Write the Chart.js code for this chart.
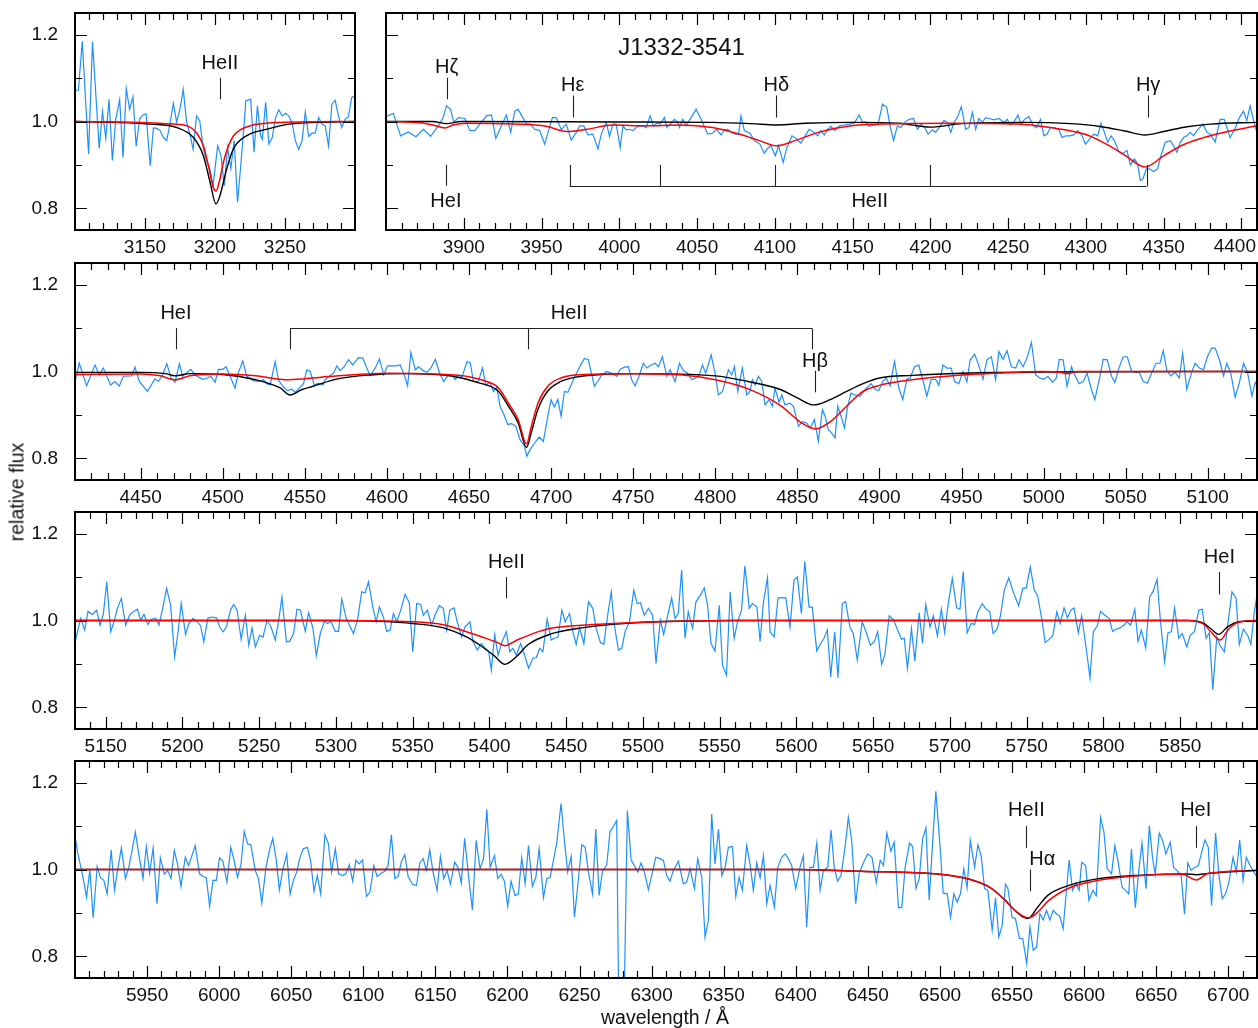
<!DOCTYPE html>
<html><head><meta charset="utf-8">
<script src="https://cdn.jsdelivr.net/npm/chart.js@4.4.1/dist/chart.umd.min.js"></script>
<style>
html,body{margin:0;padding:0;background:#fff;width:1258px;height:1028px;overflow:hidden;font-family:"Liberation Sans",Arial,sans-serif;color:#111;}
canvas{position:absolute;}
#ylab{position:absolute;left:17px;top:492px;transform:translate(-50%,-50%) rotate(-90deg);font-size:19.5px;white-space:nowrap;}
#xlab{position:absolute;left:665px;top:1017px;transform:translate(-50%,-50%);font-size:19.5px;white-space:nowrap;}
</style></head><body>
<canvas id="cA" width="356" height="260" style="left:0px;top:0px"></canvas>
<canvas id="cB" width="898" height="260" style="left:360px;top:0px"></canvas>
<canvas id="cC" width="1258" height="260" style="left:0px;top:250px"></canvas>
<canvas id="cD" width="1258" height="260" style="left:0px;top:499px"></canvas>
<canvas id="cE" width="1258" height="260" style="left:0px;top:748px"></canvas>
<div id="ylab">relative flux</div>
<div id="xlab">wavelength / Å</div>
<script>
// ---------------- observed spectrum (wavelength Å, relative flux) ----------------
const obsA = [[3100,1.072],[3102.4,1.072],[3105.2,1.185],[3109.7,0.925],[3112.5,1.184],[3117.3,0.938],[3119.6,1.023],[3122,0.961],[3124.3,1.051],[3126.7,0.910],[3129.1,1.005],[3131.9,1.050],[3134.3,0.917],[3136.6,1.076],[3139,1.028],[3141.4,1.057],[3143.7,0.943],[3146.1,1.005],[3148.5,1.015],[3150.8,1.017],[3153.7,0.898],[3156,0.985],[3158.4,0.984],[3160.8,0.979],[3163.1,0.963],[3165.5,0.956],[3167.8,0.994],[3170.2,1.042],[3172.6,0.999],[3174.9,1.027],[3177.3,1.074],[3179.7,0.999],[3182,0.972],[3184.4,0.936],[3186.8,1.013],[3189.1,1.002],[3191.5,0.940],[3193.9,0.910],[3196.2,0.892],[3198.6,0.852],[3201.9,0.944],[3204.3,0.921],[3206.6,0.852],[3209,0.940],[3211.3,0.892],[3213.7,0.956],[3216.1,0.814],[3218.4,0.898],[3220.8,0.994],[3222,1.048],[3225.5,1.051],[3227.9,0.929],[3230.3,1.036],[3232.6,0.967],[3233.8,0.959],[3236.2,1.044],[3238.5,0.948],[3240.9,0.963],[3243.3,1.009],[3245.6,1.027],[3248,1.013],[3250.4,1.019],[3252.7,1.013],[3255.1,0.996],[3257.4,0.956],[3259.8,0.936],[3262.2,0.956],[3264.5,1.022],[3266.9,0.966],[3269.3,0.973],[3271.6,0.973],[3274,1.009],[3276.4,0.994],[3278.7,0.990],[3281.1,0.944],[3283.5,1.040],[3285.8,1.049],[3288.2,1.013],[3290.5,0.986],[3292.9,1.005],[3295.3,1.011],[3297.6,1.055],[3300,1.06]];

const obsB = [[3850,1.011],[3854.7,1.019],[3859.4,0.967],[3864.3,0.976],[3869.3,0.965],[3874,0.982],[3878.7,0.966],[3883.6,0.990],[3886.8,1.009],[3888.9,1.036],[3891.5,1.028],[3893.6,0.998],[3896.4,1.009],[3900.7,1.007],[3903.9,0.979],[3907.1,0.979],[3910.3,0.994],[3914.6,1.013],[3917.8,1.015],[3920.6,0.961],[3924.2,0.990],[3927.4,1.015],[3930.2,0.975],[3932.8,1.024],[3934.9,1.028],[3938.6,1.005],[3940.3,0.994],[3942.8,0.994],[3945.6,0.982],[3948.8,0.979],[3952,0.948],[3954.2,0.975],[3957,1.009],[3959.5,1.009],[3962.7,0.981],[3965.9,0.994],[3969.1,0.957],[3972.4,0.975],[3974.5,0.990],[3977.1,0.990],[3979.8,0.969],[3983,0.971],[3986.3,0.937],[3988.4,0.971],[3991.6,0.998],[3993.7,0.966],[3995.9,0.994],[3998,0.994],[4000.6,0.940],[4002.3,0.990],[4004.4,0.981],[4006.6,0.982],[4008.7,0.979],[4011.9,0.989],[4015.1,0.990],[4017.3,0.986],[4019.8,1.013],[4022,0.989],[4024.1,0.996],[4026.3,0.994],[4029,1.009],[4030.5,0.986],[4032.7,0.994],[4035.5,1.005],[4037.6,0.998],[4038.7,0.986],[4040.8,1.005],[4042.9,0.990],[4045.5,1.005],[4049.4,1.028],[4052.6,1.005],[4056.8,0.971],[4060,0.973],[4062.6,0.982],[4065.4,0.969],[4067.5,0.981],[4069.7,0.982],[4071.8,0.976],[4074.6,0.971],[4076.7,0.971],[4078.2,1.013],[4080.4,0.979],[4084,0.973],[4086.8,0.956],[4090.4,0.948],[4093.2,0.927],[4095.3,0.938],[4097.5,0.944],[4100.3,0.921],[4102.4,0.944],[4105.4,0.906],[4107.5,0.937],[4111,0.967],[4114,0.960],[4116.7,0.950],[4119.5,0.967],[4122.1,0.982],[4125.3,0.975],[4127.5,0.967],[4129.6,0.979],[4131.8,0.969],[4133.9,0.982],[4136.1,0.989],[4138.6,0.979],[4141.4,0.990],[4144.6,0.992],[4147.8,0.994],[4151,0.996],[4154.2,1.015],[4156.4,0.998],[4158.5,0.999],[4160.7,0.989],[4163.9,0.992],[4166.4,0.994],[4169.2,1.040],[4172,1.032],[4174.1,0.990],[4176.3,0.956],[4178.8,0.990],[4181,0.986],[4183.5,0.998],[4186.3,1.005],[4189.1,1.007],[4191.7,0.982],[4194.2,0.994],[4196.4,0.986],[4198.5,0.971],[4201.3,0.981],[4203.4,0.975],[4205.6,0.986],[4208.8,1.002],[4210.9,0.998],[4213.1,0.975],[4215.2,0.998],[4217.3,1.009],[4219.9,1.034],[4222.7,0.982],[4224.8,0.986],[4227,1.021],[4229.1,0.982],[4231.2,1.007],[4233.4,0.998],[4235.5,1.009],[4237.7,1.007],[4240.9,1.004],[4244.1,1.007],[4247.3,0.998],[4249.4,1.005],[4251.1,0.992],[4253.7,0.998],[4256.3,1.015],[4258.4,0.994],[4260.5,1.005],[4263.3,1.011],[4266.1,0.990],[4268.3,0.986],[4270.8,1.005],[4273,0.967],[4275.1,0.971],[4277.2,0.986],[4279.8,0.986],[4282.6,0.981],[4284.7,0.963],[4286.9,0.967],[4289.6,0.967],[4292.2,0.969],[4294.8,0.979],[4297.6,0.967],[4299.7,0.948],[4302.5,0.960],[4305.1,0.971],[4307.6,0.967],[4309.7,0.996],[4311.9,0.975],[4314,0.952],[4316.2,0.967],[4318.3,0.956],[4321.1,0.931],[4323.2,0.925],[4326.4,0.933],[4328.6,0.900],[4331.1,0.914],[4333.3,0.902],[4335,0.864],[4336.7,0.868],[4338.8,0.891],[4341,0.891],[4343.5,0.885],[4346.1,0.891],[4348.2,0.921],[4351,0.952],[4354.2,0.956],[4356.4,0.944],[4358.5,0.929],[4360.7,0.952],[4362.8,0.963],[4364.9,0.967],[4367.1,0.975],[4369.2,0.967],[4371.4,0.979],[4375.2,0.994],[4377.8,0.975],[4379.9,0.971],[4383.1,0.953],[4386.3,1.005],[4388.9,1.005],[4392.7,0.963],[4395.7,0.982],[4398.7,1.009],[4401.3,1.024],[4403.4,1.002],[4405.6,1.036],[4407.8,1.002],[4409.9,0.975]];

const obsC = [[4409.3,0.966],[4412.6,1.019],[4417.1,0.967],[4422.2,1.015],[4424.8,0.992],[4427.2,1.008],[4431.7,0.969],[4434.3,0.977],[4437,0.966],[4439.4,0.989],[4444.5,0.990],[4446.5,1.010],[4449.2,0.977],[4454.1,0.954],[4458.7,0.983],[4460.8,0.977],[4463.4,0.992],[4465.9,1.018],[4468.5,0.985],[4470.9,0.975],[4473.6,1.018],[4475.6,0.989],[4480.5,1.005],[4483.1,0.992],[4487.8,0.982],[4490.7,0.985],[4492.7,0.989],[4495.3,0.975],[4497.4,1.005],[4500,1.005],[4502,1.011],[4504.9,0.985],[4507.5,0.962],[4509.6,0.998],[4512.2,1.024],[4514.6,0.989],[4516.7,0.985],[4518.7,0.979],[4521.7,0.977],[4524.8,0.981],[4526.8,0.972],[4528.9,0.969],[4531.9,1.023],[4533.9,0.981],[4536.6,0.966],[4539.4,0.956],[4542.1,0.959],[4544.1,0.952],[4546.7,0.962],[4549.2,0.972],[4551.2,1.004],[4553.3,1.0],[4555.7,0.969],[4558.3,0.973],[4561,0.969],[4562.4,0.981],[4565,0.989],[4567.5,0.996],[4569.5,1.013],[4571.5,1.002],[4574,1.011],[4576.6,1.027],[4579.3,1.015],[4580.7,1.023],[4582.7,1.032],[4585.4,1.031],[4587.4,1.011],[4589.8,0.990],[4592.9,1.008],[4595.5,1.029],[4598,0.992],[4600.4,1.013],[4603,1.013],[4605.7,1.013],[4608.1,1.015],[4610.6,0.992],[4612.6,0.967],[4614.6,1.044],[4617.3,1.004],[4619.3,1.011],[4622,1.002],[4624.4,0.998],[4626.8,1.008],[4629.5,1.028],[4632.1,0.996],[4634.6,0.977],[4637,0.990],[4639.6,0.992],[4641.7,0.981],[4643.7,0.992],[4645.7,0.987],[4648.8,1.023],[4650.8,1.019],[4652.7,0.977],[4655.7,0.977],[4658.2,1.008],[4660.2,0.969],[4662.8,0.975],[4664.9,0.954],[4666.9,0.964],[4668.9,0.920],[4671,0.903],[4673.6,0.878],[4676,0.880],[4678.5,0.874],[4681.1,0.843],[4683.8,0.828],[4685.2,0.805],[4687.2,0.820],[4690.3,0.837],[4692.7,0.849],[4695.3,0.839],[4698,0.897],[4700,0.935],[4702,0.918],[4704.1,0.936],[4706.1,0.897],[4708.1,0.954],[4710.2,0.952],[4712.2,0.969],[4714.6,0.989],[4717.7,1.013],[4720.3,1.030],[4722.7,1.027],[4724.8,0.992],[4726.4,0.966],[4728.4,0.977],[4730.9,0.992],[4733.9,1.0],[4737,0.996],[4740,0.989],[4742,1.005],[4744.7,1.010],[4747.1,1.011],[4749.1,0.981],[4751.2,0.967],[4753.6,0.989],[4756.2,1.019],[4758.3,1.008],[4760.9,1.015],[4763.4,1.019],[4765.4,1.011],[4767.8,1.034],[4770.5,0.989],[4772.5,1.004],[4775.5,0.977],[4778.2,1.019],[4780.6,1.002],[4783.2,0.996],[4785.7,0.981],[4788.1,0.985],[4790.2,0.992],[4792.2,1.015],[4794.2,0.996],[4797.5,1.038],[4799.9,0.996],[4801.9,0.946],[4804.4,0.954],[4806.4,0.981],[4808,1.004],[4810,0.992],[4811.7,1.011],[4813.7,0.954],[4816.5,1.008],[4819.2,0.946],[4821.2,0.954],[4822.6,0.981],[4824.3,0.969],[4826.3,0.989],[4828.3,0.977],[4830.4,0.923],[4832.8,0.935],[4834.8,0.920],[4836.4,0.962],[4838.9,0.929],[4840.5,0.946],[4842.5,0.923],[4845.6,0.927],[4847.6,0.920],[4850.7,0.874],[4853.1,0.885],[4855.7,0.881],[4857.8,0.870],[4860.4,0.889],[4862.8,0.839],[4865.3,0.912],[4866.9,0.897],[4868.9,0.866],[4871,0.858],[4873,0.847],[4874.6,0.920],[4876.6,0.897],[4878.7,0.870],[4880.7,0.920],[4882.7,0.950],[4885.2,0.946],[4888.2,0.943],[4891.3,0.958],[4894.9,0.972],[4897.6,0.958],[4899.6,0.956],[4902,0.977],[4904.1,0.985],[4906.5,0.967],[4909.2,1.023],[4911.8,0.962],[4914.2,0.935],[4916.7,0.982],[4918.7,0.985],[4921.4,1.011],[4924,1.015],[4926.4,0.981],[4928.9,0.943],[4931.5,0.982],[4934.2,0.982],[4936.2,0.968],[4938.7,1.015],[4941.1,1.008],[4943.7,1.008],[4945.8,0.977],[4948.4,0.972],[4950.9,1.0],[4953.3,0.976],[4955.3,1.027],[4958,1.040],[4960.6,1.013],[4963.1,0.982],[4965.5,1.027],[4968.2,1.034],[4970.8,0.981],[4972.8,1.046],[4975.3,1.028],[4977.7,1.048],[4980.4,1.011],[4983,1.008],[4985,1.027],[4987.5,1.011],[4989.9,1.031],[4992.6,1.067],[4995.2,0.992],[4997.7,0.985],[5000.1,0.982],[5002.7,0.989],[5005.4,0.975],[5007.8,0.985],[5009.5,1.028],[5011.9,1.027],[5014.3,0.966],[5017,1.011],[5019,0.992],[5021.7,0.972],[5024.1,0.977],[5026.5,0.996],[5029.2,0.958],[5031.2,0.935],[5033.9,0.981],[5036.3,1.028],[5038.8,1.027],[5041.4,0.989],[5043.4,0.975],[5046.1,1.010],[5048.5,1.034],[5051,1.034],[5053.6,1.0],[5056.3,0.998],[5058.3,0.998],[5060.7,0.977],[5063.2,0.973],[5065.8,0.996],[5068.5,1.019],[5070.9,1.019],[5072.9,1.048],[5075,1.004],[5077.4,0.990],[5080.1,0.998],[5082.7,0.985],[5084.7,1.042],[5087.2,0.959],[5090.2,0.998],[5092.3,1.019],[5094.9,1.008],[5097.4,1.004],[5099.8,1.034],[5102.4,1.054],[5104.5,1.054],[5107.1,1.027],[5109.6,0.990],[5111.6,1.019],[5114,0.996],[5116.7,0.941],[5119.3,0.975],[5121.8,1.019],[5124.2,0.998],[5126.9,0.944],[5128.9,0.975],[5130.7,0.962]];

const obsD = [[5129.8,0.947],[5133.7,1.005],[5136.3,0.978],[5138.5,1.021],[5141.3,1.014],[5144.1,1.024],[5146.3,0.989],[5148.5,1.016],[5150.7,1.089],[5153.3,0.974],[5155.4,0.997],[5157.6,1.028],[5160.2,1.051],[5163,0.989],[5165.8,1.014],[5168.4,1.021],[5170.6,1.026],[5172.8,1.001],[5174.9,1.014],[5177.5,0.991],[5179.7,1.003],[5182.5,1.005],[5184.7,0.989],[5187.5,1.035],[5189.7,1.074],[5192.3,1.035],[5194.9,0.916],[5197,0.970],[5199.2,1.039],[5202,0.968],[5204.2,0.993],[5207,1.005],[5209.6,0.997],[5211.8,0.988],[5213.9,0.951],[5216.5,1.005],[5219.3,1.008],[5222.2,1.006],[5224.3,0.985],[5226.5,0.974],[5228.7,0.985],[5231.3,1.024],[5233.4,1.037],[5235.6,1.024],[5238.2,0.957],[5241,1.012],[5243.2,0.943],[5245.3,0.983],[5247.5,0.939],[5250.3,0.966],[5252.5,0.962],[5255.1,1.001],[5257.7,0.985],[5260.5,0.955],[5262.7,1.001],[5264.8,1.054],[5267.7,0.951],[5269.8,0.952],[5272.4,0.970],[5274.6,1.026],[5276.8,1.024],[5280,0.975],[5282.2,1.018],[5285,0.982],[5287.2,0.919],[5289.8,0.970],[5292.4,0.998],[5294.5,0.993],[5296.7,0.998],[5299.5,0.975],[5301.7,0.975],[5303.8,1.049],[5306.7,1.005],[5308.8,0.989],[5311.4,0.970],[5314,1.001],[5316.8,1.066],[5319,1.064],[5321.2,1.089],[5324,1.031],[5326.2,0.997],[5328.3,1.031],[5330.9,1.008],[5333.1,0.975],[5335.3,0.978],[5337.4,1.016],[5339.6,0.997],[5342.2,1.024],[5345,1.060],[5347.8,1.041],[5350,0.928],[5352.6,1.039],[5355.2,1.037],[5356.9,1.012],[5359.5,1.024],[5362.3,0.989],[5364.5,1.012],[5367.3,1.034],[5369.9,1.028],[5372.1,0.978],[5374.2,1.024],[5376.9,1.029],[5379,0.997],[5381.9,0.962],[5384,0.985],[5387.3,0.997],[5389.3,0.951],[5392.1,0.932],[5394.7,0.947],[5397.3,0.936],[5399.5,0.928],[5401.2,0.886],[5403.4,0.968],[5405.6,0.920],[5408.2,0.951],[5411,0.974],[5413.2,0.928],[5415.3,0.936],[5417.5,0.920],[5420.3,0.947],[5422.9,0.920],[5425.5,0.890],[5428.3,0.913],[5430.5,0.914],[5432.7,0.936],[5434.8,0.928],[5437.6,1.003],[5440.2,0.955],[5442.4,0.959],[5444.6,0.962],[5447.2,1.024],[5449.3,0.997],[5452.2,1.016],[5454.3,0.974],[5456.5,0.945],[5458.7,0.983],[5461.5,0.947],[5464.5,1.043],[5467.3,1.028],[5469.5,0.982],[5472.3,0.949],[5474.5,0.945],[5476.7,1.005],[5479.3,1.066],[5481.4,0.989],[5484,0.932],[5486.2,0.936],[5488.4,0.975],[5491.2,0.997],[5494,1.070],[5496.2,1.039],[5498.3,1.041],[5500.9,1.012],[5503.5,1.028],[5506.3,1.012],[5508.5,0.901],[5511.3,1.001],[5513.5,0.968],[5516.1,1.012],[5518.7,1.052],[5520.9,1.005],[5523,1.016],[5525.2,1.116],[5527.4,0.959],[5529.5,1.020],[5532.3,0.982],[5534.5,1.043],[5537.3,1.058],[5539.9,1.075],[5542.1,1.035],[5544.3,0.947],[5546.9,0.930],[5549.7,1.035],[5551.8,0.897],[5554.4,0.874],[5556.8,1.066],[5559.4,0.959],[5561.6,0.997],[5564.2,1.024],[5566.4,1.126],[5569.2,1.028],[5571.3,1.039],[5574.2,1.031],[5576.3,0.952],[5578.5,1.043],[5581.1,1.098],[5582.8,0.974],[5585.4,0.962],[5588,1.052],[5593,1.052],[5595.8,0.985],[5598.4,1.093],[5600.6,1.100],[5603.2,1.016],[5605.4,1.136],[5608.2,1.031],[5610.3,1.031],[5613.2,0.930],[5615.8,0.947],[5617.9,0.959],[5620.1,0.978],[5622.3,0.870],[5624.9,0.974],[5627,0.868],[5629.9,1.039],[5632,1.044],[5634.8,0.985],[5637,0.970],[5639.6,0.909],[5642.8,0.997],[5645.3,0.974],[5648.1,0.943],[5650.7,0.951],[5652.9,0.974],[5655.5,0.899],[5657.6,0.922],[5660.4,1.011],[5663.3,1.001],[5665.9,0.978],[5668.4,0.957],[5670.2,0.959],[5672.3,0.890],[5674.9,0.982],[5677.1,0.907],[5679.9,1.018],[5682.1,0.947],[5684.2,1.037],[5687,0.985],[5689.2,1.011],[5691.8,0.965],[5694.4,1.026],[5696.5,0.972],[5698.7,1.035],[5701.5,1.097],[5704.3,1.029],[5706.5,1.026],[5708.6,1.113],[5711.2,0.972],[5713.8,0.993],[5716,0.991],[5718.2,1.020],[5721,1.039],[5723.1,1.028],[5725.9,1.020],[5728.1,0.970],[5730.7,0.980],[5732.9,1.012],[5735.4,1.070],[5738.3,1.098],[5741.1,1.067],[5744.7,1.034],[5747.5,1.074],[5749.7,1.075],[5752.3,1.123],[5754.9,1.070],[5757.1,1.057],[5759.9,1.001],[5762,0.949],[5764.8,0.957],[5767,0.965],[5769.6,1.020],[5771.8,0.993],[5774.3,1.029],[5776.5,1.006],[5778.7,1.024],[5780.8,1.029],[5783.6,0.972],[5785.8,1.011],[5788.6,0.939],[5791.2,0.868],[5793.4,0.974],[5796,0.988],[5798.1,1.021],[5800.9,1.012],[5803.7,1.005],[5805.9,0.975],[5808.1,0.980],[5810.7,0.983],[5813.2,0.989],[5815.4,0.997],[5817.6,0.989],[5820.4,1.026],[5822.5,0.952],[5824.7,0.978],[5827.5,0.937],[5830.1,1.054],[5832.3,1.067],[5834.9,1.095],[5837,1.003],[5839.8,0.905],[5842,0.972],[5844.2,0.974],[5846.3,1.029],[5849.1,0.959],[5851.3,0.970],[5854.3,0.939],[5856.5,0.966],[5859.3,0.975],[5862.1,1.024],[5864.3,1.026],[5866.8,0.959],[5869,0.972],[5871.2,0.840],[5873.8,0.962],[5875.9,0.943],[5878.7,0.928],[5881.5,1.005],[5883.7,1.066],[5886.3,1.052],[5888.5,0.945],[5891.1,0.980],[5893.9,0.966],[5896,0.945],[5898.2,1.018],[5900.1,1.060]];

const obsE = [[5899.7,1.084],[5902,1.036],[5904.3,1.002],[5906.2,0.971],[5908,0.936],[5910.3,0.999],[5912.6,0.889],[5915.4,1.007],[5917.7,0.981],[5920,0.975],[5922.3,0.944],[5925.1,1.045],[5927.4,0.952],[5929.7,1.002],[5932.2,1.050],[5935,0.979],[5937.3,1.005],[5939.6,1.044],[5941.9,1.086],[5944.2,1.036],[5947.2,0.979],[5949.5,1.053],[5951.8,0.992],[5954.2,1.050],[5956.9,0.921],[5959.2,1.027],[5962,0.989],[5964.3,0.998],[5966.6,0.979],[5968.9,1.044],[5971.2,1.011],[5973.5,0.961],[5976.5,1.028],[5978.8,1.009],[5981.1,1.032],[5983.4,1.055],[5986.4,0.990],[5988.8,0.984],[5991.1,0.981],[5993.4,0.915],[5995.7,0.975],[5998,0.975],[6000.3,1.027],[6002.6,1.019],[6005.4,0.971],[6008.1,1.051],[6010.4,1.021],[6012.7,0.982],[6015.1,1.011],[6017.4,1.088],[6019.7,1.059],[6022,1.057],[6025,0.998],[6027.3,0.979],[6029.6,0.923],[6032.6,1.007],[6034.9,1.044],[6037.2,1.072],[6039.5,1.025],[6041.8,0.953],[6044.1,0.998],[6046.9,1.036],[6049.2,0.943],[6051.5,0.975],[6053.8,0.994],[6056.1,1.028],[6058.4,1.048],[6061.2,1.051],[6063.5,1.019],[6065.8,0.950],[6068.1,0.986],[6070.4,0.944],[6073.4,1.080],[6075.7,1.061],[6078,0.994],[6080.6,1.048],[6082.9,0.990],[6085.6,0.986],[6087.9,0.990],[6090.3,1.011],[6092.6,0.973],[6094.9,1.021],[6097.2,1.013],[6099.5,1.022],[6102.2,0.938],[6104.6,0.948],[6107.3,1.009],[6109.6,0.984],[6112.6,0.992],[6114.9,0.996],[6117.2,1.009],[6119.5,1.080],[6121.9,0.979],[6124.2,0.984],[6126.5,1.019],[6128.8,1.034],[6131.1,0.984],[6134.1,0.966],[6136.9,0.963],[6139.2,1.015],[6141.5,1.025],[6143.8,0.998],[6146.1,1.045],[6148.4,0.994],[6151.2,0.952],[6153.5,1.030],[6155.8,0.979],[6158.1,0.998],[6160.4,0.966],[6163.4,1.017],[6165.7,1.005],[6168,0.969],[6170.3,1.072],[6173.3,0.976],[6175.7,0.907],[6178.3,1.067],[6181,1.002],[6183.4,1.025],[6185.7,1.139],[6188,1.005],[6191,1.032],[6193.3,0.979],[6195.6,0.989],[6197.9,0.973],[6200.2,0.915],[6202.5,0.973],[6205.3,0.940],[6207.6,0.944],[6209.9,1.027],[6212.3,0.967],[6214.6,1.055],[6217.3,0.961],[6219.7,0.982],[6222,1.048],[6225,0.935],[6227.3,0.979],[6229.6,0.982],[6231.9,1.021],[6234.2,1.061],[6237.2,1.152],[6239.5,1.067],[6241.8,0.994],[6244.2,1.030],[6246.5,0.890],[6248.8,0.963],[6251.6,1.057],[6253.9,1.051],[6256.2,0.994],[6259,0.944],[6261.3,1.093],[6263.6,0.940],[6265.9,0.996],[6268.9,1.011],[6271.2,1.088],[6273.5,1.099],[6275.8,1.113],[6277.5,0.60],[6280.5,0.60],[6283.2,1.136],[6285.8,1.022],[6288.1,1.009],[6290.4,0.994],[6292.7,1.015],[6295,0.994],[6297.8,0.953],[6300.6,0.994],[6302.9,1.028],[6305.9,1.025],[6308.2,1.021],[6310.5,0.986],[6312.8,0.973],[6315.1,0.998],[6318.6,1.019],[6322,0.967],[6324.4,0.971],[6326.7,1.002],[6329.7,0.956],[6332,1.025],[6334.8,0.982],[6337.1,0.844],[6339.4,0.883],[6341.7,1.128],[6344,1.013],[6346.4,1.093],[6348.7,0.986],[6351,1.005],[6353.3,1.051],[6356.1,1.053],[6358.4,0.938],[6360.7,0.982],[6363,0.952],[6366,1.055],[6368.3,1.013],[6370.6,0.952],[6372.9,1.015],[6375.3,0.981],[6377.6,1.032],[6379.9,0.921],[6382.2,0.963],[6385.2,0.913],[6387.5,1.005],[6390.3,1.028],[6392.6,1.036],[6394.9,1.025],[6397.2,1.009],[6400,0.956],[6403,1.005],[6405.3,1.032],[6407.6,0.867],[6409.9,1.005],[6412.3,1.005],[6414.6,1.061],[6416.9,0.953],[6419.2,0.998],[6422.2,1.005],[6424.5,1.091],[6426.8,1.002],[6429.1,0.973],[6431.4,0.986],[6434.2,1.051],[6436.5,1.120],[6438.8,1.068],[6441.6,0.921],[6443.9,0.990],[6446.9,1.015],[6449.9,1.036],[6452.9,1.028],[6455.9,0.969],[6458.6,1.021],[6460.9,1.009],[6463.2,1.084],[6466,1.042],[6468.3,1.063],[6471.3,0.912],[6473.6,0.912],[6475.9,1.005],[6478.9,1.061],[6481.1,1.053],[6483.4,0.956],[6485.7,0.979],[6488,1.070],[6490.3,1.096],[6492.6,0.930],[6494.9,1.059],[6497.2,1.180],[6500,1.059],[6502.3,0.946],[6505.1,0.944],[6507.4,0.890],[6509.7,0.944],[6512,0.925],[6514.3,0.944],[6516.6,1.002],[6518.9,0.958],[6521.1,1.067],[6524.1,1.005],[6526.4,1.057],[6528.7,1.030],[6531,0.956],[6533.3,0.952],[6536.3,0.860],[6538.6,0.935],[6540.9,0.844],[6543.2,0.871],[6545.5,0.966],[6547.1,0.958],[6550.1,0.890],[6552.4,0.887],[6555.2,0.841],[6557.5,0.841],[6560.2,0.783],[6562.5,0.867],[6564.8,0.814],[6567.1,0.821],[6569.4,0.898],[6571.7,0.884],[6574,0.906],[6576.3,0.884],[6578.6,0.906],[6580.9,0.898],[6583.2,0.892],[6585.5,0.864],[6587.4,0.936],[6589.7,1.022],[6592,0.952],[6594.3,0.969],[6596.6,0.952],[6598.4,1.017],[6601.1,1.009],[6603.4,0.929],[6606.2,0.952],[6608.5,0.940],[6611.5,1.120],[6613.8,1.086],[6616.1,1.002],[6619.1,0.990],[6621.4,1.055],[6623.7,1.017],[6626.4,0.959],[6628.7,0.952],[6631,0.944],[6632.9,1.048],[6635.6,0.912],[6637.9,0.994],[6640.2,1.061],[6643,0.956],[6645.3,1.101],[6647.6,1.025],[6649.4,0.989],[6652.2,1.084],[6654.5,1.067],[6656.8,1.036],[6659.8,1.063],[6662.1,1.005],[6664.4,0.998],[6667.4,0.986],[6669.7,0.897],[6672,1.015],[6674.3,0.998],[6677,1.005],[6679.3,1.009],[6681.6,1.040],[6683.9,1.068],[6686.2,1.051],[6688.5,0.917],[6691.3,1.084],[6693.6,0.986],[6695.9,0.933],[6698.2,0.944],[6700.5,0.971],[6703.4,1.028],[6705.7,0.994],[6708,1.068],[6710.3,0.975],[6712.6,1.028],[6714.9,1.011],[6717.2,0.998],[6719.3,0.986]];

// ---------------- model spectra (red and black) ----------------
const redA = [[3100,1.0],[3140,0.998],[3160,0.996],[3170,0.994],[3180,0.990],[3187,0.973],[3191.7,0.944],[3195.3,0.898],[3198.8,0.848],[3200.7,0.840],[3203.5,0.867],[3205.9,0.905],[3209.5,0.943],[3213,0.966],[3217.7,0.980],[3227.2,0.992],[3236.6,0.996],[3260,0.999],[3300,1.0]];
const blackA = [[3100,1.0],[3130,0.998],[3153.9,0.994],[3172.8,0.986],[3184.6,0.963],[3191.7,0.921],[3196.5,0.860],[3200.7,0.810],[3203.5,0.829],[3208.3,0.890],[3213,0.936],[3222.5,0.967],[3236.6,0.982],[3253.2,0.994],[3272,0.998],[3300,1.0]];
const redB = [[3850,1.0],[3872,0.997],[3880,0.992],[3888,0.985],[3893,0.992],[3902,0.996],[3932,0.994],[3953,0.989],[3966,0.977],[3979,0.982],[3996,0.992],[4017,0.990],[4039,0.992],[4060,0.986],[4077,0.971],[4090,0.956],[4101,0.944],[4113,0.956],[4128,0.975],[4149,0.990],[4170,0.994],[4213,0.996],[4256,0.994],[4277,0.986],[4299,0.971],[4311,0.952],[4324,0.925],[4338,0.895],[4350,0.921],[4363,0.947],[4384,0.971],[4410,0.990]];
const blackB = [[3850,1.0],[3880,1.0],[3889,0.995],[3898,1.0],[4000,0.999],[4060,0.998],[4085,0.995],[4101,0.992],[4120,0.996],[4150,0.998],[4180,0.996],[4200,0.987],[4220,0.995],[4260,0.998],[4290,0.995],[4310,0.988],[4325,0.978],[4338,0.969],[4350,0.977],[4365,0.988],[4380,0.994],[4410,0.998]];
const redC = [[4410,0.993],[4450,0.994],[4462,0.990],[4471,0.981],[4480,0.990],[4500,0.994],[4520,0.990],[4540,0.981],[4560,0.987],[4600,0.996],[4630,0.994],[4650,0.988],[4660,0.978],[4668,0.962],[4674,0.927],[4680,0.889],[4685,0.833],[4688,0.874],[4692,0.927],[4698,0.966],[4706,0.985],[4715,0.992],[4730,0.994],[4750,0.995],[4780,0.992],[4800,0.981],[4820,0.960],[4840,0.921],[4852,0.883],[4861,0.868],[4870,0.884],[4880,0.920],[4890,0.954],[4900,0.968],[4920,0.981],[4950,0.992],[4970,0.996],[5000,1.0],[5010,0.998],[5015,0.995],[5020,1.0],[5130,1.0]];
const blackC = [[4410,0.998],[4450,0.998],[4465,0.995],[4471,0.990],[4480,0.995],[4500,0.993],[4520,0.981],[4535,0.962],[4541,0.946],[4548,0.958],[4555,0.966],[4570,0.983],[4590,0.992],[4610,0.995],[4640,0.989],[4655,0.975],[4668,0.954],[4674,0.920],[4680,0.881],[4685,0.825],[4688,0.860],[4692,0.913],[4698,0.955],[4706,0.977],[4715,0.987],[4730,0.993],[4750,0.995],[4800,0.990],[4820,0.977],[4840,0.958],[4850,0.939],[4860,0.923],[4870,0.935],[4880,0.954],[4890,0.972],[4900,0.985],[4920,0.991],[4950,0.996],[5000,0.999],[5130,1.0]];
const redD = [[5130,1.0],[5300,1.0],[5350,0.997],[5370,0.990],[5385,0.974],[5395,0.962],[5404,0.951],[5410,0.942],[5418,0.955],[5430,0.972],[5440,0.982],[5460,0.989],[5480,0.993],[5500,0.996],[5530,0.999],[5560,1.0],[5855,1.0],[5865,0.992],[5870,0.974],[5876,0.955],[5882,0.982],[5888,0.996],[5900,1.0]];
const blackD = [[5130,1.0],[5300,1.0],[5330,0.998],[5350,0.993],[5370,0.983],[5385,0.962],[5395,0.940],[5403,0.919],[5410,0.899],[5418,0.918],[5425,0.944],[5440,0.969],[5460,0.983],[5480,0.991],[5500,0.996],[5530,0.999],[5560,1.0],[5855,1.0],[5865,0.994],[5870,0.981],[5875,0.968],[5881,0.986],[5888,0.997],[5900,1.0]];
const redE = [[5900,1.0],[6400,1.0],[6445,0.996],[6500,0.989],[6520,0.978],[6535,0.958],[6545,0.930],[6552,0.906],[6558,0.892],[6562,0.889],[6568,0.902],[6575,0.927],[6590,0.958],[6610,0.975],[6640,0.986],[6668,0.989],[6678,0.976],[6686,0.991],[6720,0.998]];
const blackE = [[5900,1.0],[6400,1.0],[6445,0.996],[6500,0.989],[6520,0.978],[6535,0.958],[6545,0.930],[6552,0.906],[6558,0.890],[6561,0.887],[6568,0.914],[6575,0.941],[6590,0.964],[6610,0.979],[6640,0.987],[6670,0.990],[6678,0.988],[6686,0.991],[6720,0.998]];

// ---------------- axis ranges and tick labels ----------------
const waveRanges = {A:[3100,3300], B:[3850,4410], C:[4410,5130], D:[5130,5900], E:[5900,6720]};
const fluxRange = [0.75, 1.25];
const fluxTickLabels = [0.8, 1.0, 1.2];
// tick labels too close to the right edge are set flush with the frame
const edgeTickLabels = {B: [4400]};

// ---------------- line identifications ----------------
const lineMarks = {
  A: [{w:3203.5, f0:1.051, f1:1.101, text:'HeII', tf:1.134}],
  B: [{w:3889, f0:1.051, f1:1.101, text:'Hζ', tf:1.124},
      {w:3970, f0:1.009, f1:1.060, text:'Hε', tf:1.083},
      {w:4101, f0:1.009, f1:1.060, text:'Hδ', tf:1.083},
      {w:4340, f0:1.009, f1:1.060, text:'Hγ', tf:1.083},
      {w:3888.5, f0:0.852, f1:0.900, text:'HeI', tf:0.815}],
  C: [{w:4471.5, f0:1.051, f1:1.100, text:'HeI', tf:1.134},
      {w:4860.8, f0:0.952, f1:1.002, text:'Hβ', tf:1.024}],
  D: [{w:5411, f0:1.051, f1:1.100, text:'HeII', tf:1.134},
      {w:5875.5, f0:1.060, f1:1.112, text:'HeI', tf:1.145}],
  E: [{w:6560, f0:1.050, f1:1.100, text:'HeII', tf:1.136},
      {w:6562.5, f0:0.950, f1:1.000, text:'Hα', tf:1.024, tw:6571},
      {w:6677.5, f0:1.050, f1:1.100, text:'HeI', tf:1.136}]
};
const brackets = {
  B: {waves:[3968,4026,4100,4200,4339], fLine:0.852, fTick:0.900, text:'HeII', tw:4161, tf:0.815},
  C: {waves:[4541,4686,4859], fLine:1.101, fTick:1.051, text:'HeII', tw:4711, tf:1.134}
};
const titles = {B: {text:'J1332-3541', tw:4040, tf:1.168}};

const FONT = '"Liberation Sans", Arial, sans-serif';

const decorPlugin = {
  id: 'decor',
  afterDatasetsDraw(chart) {
    const key = chart.options.plugins.decor.key;
    const {ctx, chartArea: a} = chart;
    const xs = chart.scales.x, ys = chart.scales.y;
    const X = v => xs.getPixelForValue(v), Y = v => ys.getPixelForValue(v);
    ctx.save();
    ctx.strokeStyle = '#000';
    ctx.lineWidth = 1.2;
    ctx.beginPath();
    const [w0, w1] = waveRanges[key];
    for (let v = Math.ceil(w0 / 10) * 10; v <= w1; v += 10) {
      if (v <= w0 || v >= w1) continue;
      const px = Math.round(X(v)) + 0.5;
      const len = (v % 50 === 0) ? 12 : 7;
      ctx.moveTo(px, a.bottom); ctx.lineTo(px, a.bottom - len);
      ctx.moveTo(px, a.top); ctx.lineTo(px, a.top + len);
    }
    for (let k = 8; k <= 12; k++) {
      const py = Math.round(Y(k / 10)) + 0.5;
      const len = (k % 2 === 0) ? 12 : 7;
      ctx.moveTo(a.left, py); ctx.lineTo(a.left + len, py);
      ctx.moveTo(a.right, py); ctx.lineTo(a.right - len, py);
    }
    ctx.stroke();
    // frame
    ctx.lineWidth = 2;
    ctx.strokeRect(a.left, a.top, a.right - a.left, a.bottom - a.top);
    // edge tick labels, kept inside the canvas
    ctx.fillStyle = '#111';
    ctx.font = '19px ' + FONT;
    ctx.textAlign = 'right';
    ctx.textBaseline = 'middle';
    (edgeTickLabels[key] || []).forEach(v => { ctx.fillText(String(v), a.right - 1, a.bottom + 17); });
    // line identifications
    ctx.lineWidth = 1.1;
    ctx.strokeStyle = '#222';
    ctx.font = '20px ' + FONT;
    ctx.textAlign = 'center';
    (lineMarks[key] || []).forEach(m => {
      const px = Math.round(X(m.w)) + 0.5;
      ctx.beginPath(); ctx.moveTo(px, Y(m.f0)); ctx.lineTo(px, Y(m.f1)); ctx.stroke();
      ctx.fillText(m.text, X(m.tw || m.w), Y(m.tf));
    });
    const b = brackets[key];
    if (b) {
      ctx.beginPath();
      const yl = Math.round(Y(b.fLine)) + 0.5;
      ctx.moveTo(X(b.waves[0]), yl); ctx.lineTo(X(b.waves[b.waves.length - 1]), yl);
      b.waves.forEach(w => { const px = Math.round(X(w)) + 0.5; ctx.moveTo(px, yl); ctx.lineTo(px, Y(b.fTick)); });
      ctx.stroke();
      ctx.fillText(b.text, X(b.tw), Y(b.tf));
    }
    const t = titles[key];
    if (t) {
      ctx.font = '24px ' + FONT;
      ctx.fillText(t.text, X(t.tw), Y(t.tf));
    }
    ctx.restore();
  }
};

function toXY(arr) { return arr.map(p => ({x: p[0], y: p[1]})); }

function makePanel(canvasId, key, obs, red, black, showY, yWidth) {
  const [w0, w1] = waveRanges[key];
  const majors = [];
  for (let v = Math.ceil(w0 / 50) * 50; v < w1; v += 50) if (v > w0) majors.push(v);
  const edge = edgeTickLabels[key] || [];
  new Chart(document.getElementById(canvasId), {
    type: 'line',
    data: {
      datasets: [
        {data: toXY(red), borderColor: '#ff0000', borderWidth: 1.5, pointRadius: 0, cubicInterpolationMode: 'monotone', fill: false},
        {data: toXY(black), borderColor: '#000000', borderWidth: 1.4, pointRadius: 0, cubicInterpolationMode: 'monotone', fill: false},
        {data: toXY(obs), borderColor: '#1e90ff', borderWidth: 1.2, pointRadius: 0, tension: 0, fill: false}
      ]
    },
    options: {
      responsive: false, animation: false, events: [],
      layout: {padding: {top: 13, right: 1, left: 0, bottom: 0}},
      plugins: {legend: {display: false}, tooltip: {enabled: false}, decor: {key: key}},
      scales: {
        x: {
          type: 'linear', min: w0, max: w1,
          grid: {display: false, drawTicks: false}, border: {display: false},
          afterBuildTicks: s => { s.ticks = majors.map(v => ({value: v})); },
          afterFit: s => { s.height = 30; s.paddingLeft = 0; s.paddingRight = 0; },
          ticks: {padding: 6, color: '#111', font: {family: FONT, size: 19}, maxRotation: 0, autoSkip: false,
                  callback: v => edge.includes(v) ? '' : String(v)}
        },
        y: {
          type: 'linear', min: fluxRange[0], max: fluxRange[1],
          grid: {display: false, drawTicks: false}, border: {display: false},
          afterBuildTicks: s => { s.ticks = fluxTickLabels.map(v => ({value: v})); },
          afterFit: s => { s.width = yWidth; s.paddingTop = 0; s.paddingBottom = 0; },
          ticks: {display: showY, padding: 17, color: '#111', font: {family: FONT, size: 19}, callback: v => v.toFixed(1)}
        }
      }
    },
    plugins: [decorPlugin]
  });
}

makePanel('cA', 'A', obsA, redA, blackA, true, 75);
makePanel('cB', 'B', obsB, redB, blackB, false, 26);
makePanel('cC', 'C', obsC, redC, blackC, true, 75);
makePanel('cD', 'D', obsD, redD, blackD, true, 75);
makePanel('cE', 'E', obsE, redE, blackE, true, 75);
</script>
</body></html>
